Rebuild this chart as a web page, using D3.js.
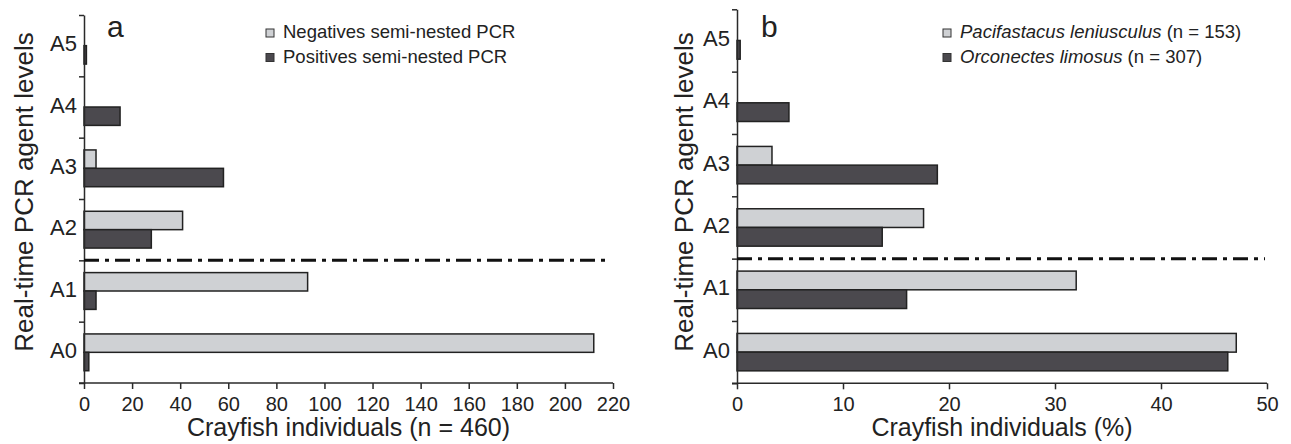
<!DOCTYPE html>
<html>
<head>
<meta charset="utf-8">
<script src="https://cdn.jsdelivr.net/npm/d3@7"></script>
<style>
  body { margin: 0; background: #fff; }
  svg { font-family: "Liberation Sans", Arial, Helvetica, sans-serif; }
  .axis path, .axis line { stroke: #2a2a2a; stroke-width: 1.5; }
  .axis text { fill: #222; }
</style>
</head>
<body>
<svg id="chart" width="1291" height="444"></svg>
<script>
// agent levels, bottom to top
const levels = ["A0", "A1", "A2", "A3", "A4", "A5"];

// panel a : counts per level
const negativesPCR = [212, 93, 41, 5, 0, 0];
const positivesPCR = [2, 5, 28, 58, 15, 1];
const ticksA = [0, 20, 40, 60, 80, 100, 120, 140, 160, 180, 200, 220];

// panel b : % per species
const pacifastacus = [47.1, 32.0, 17.6, 3.3, 0, 0];
const orconectes = [46.3, 16.0, 13.7, 18.9, 4.9, 0.3];
const ticksB = [0, 10, 20, 30, 40, 50];

const lightFill = "#cfd1d4", darkFill = "#4b494e", barStroke = "#222";

const svg = d3.select("#chart");

function panel(cfg) {
  const g = svg.append("g");

  const x = d3.scaleLinear().domain([0, cfg.xmax]).range([cfg.left, cfg.right]);
  const y = d3.scaleBand().domain(levels.slice().reverse()).range([cfg.top, cfg.bottom]);
  const yEdge = d3.scaleLinear().domain([0, levels.length]).range([cfg.bottom, cfg.top]);
  const h = y.step() * 0.3;

  const rows = levels.map((l, i) => ({lev: l, light: cfg.light[i], dark: cfg.dark[i]}));

  // light bars above band centre, dark below
  g.selectAll(".light").data(rows.filter(d => d.light > 0)).enter()
    .append("rect")
    .attr("class", "light")
    .attr("x", x(0))
    .attr("y", d => y(d.lev) + y.step() / 2 - h)
    .attr("width", d => x(d.light) - x(0))
    .attr("height", h)
    .style("fill", lightFill)
    .style("stroke", barStroke)
    .style("stroke-width", 1.5);

  g.selectAll(".dark").data(rows.filter(d => d.dark > 0)).enter()
    .append("rect")
    .attr("class", "dark")
    .attr("x", x(0))
    .attr("y", d => y(d.lev) + y.step() / 2)
    .attr("width", d => x(d.dark) - x(0))
    .attr("height", h)
    .style("fill", darkFill)
    .style("stroke", barStroke)
    .style("stroke-width", 1.5);

  // x axis
  g.append("g")
    .attr("class", "axis")
    .attr("transform", "translate(0," + cfg.bottom + ")")
    .call(d3.axisBottom(x).tickValues(cfg.ticks).tickSizeOuter(0).tickSize(6).tickPadding(8))
    .call(a => a.select(".domain").attr("d", "M" + (cfg.left - 5) + ",0H" + cfg.right))
    .selectAll("text")
    .style("font-size", "20px");

  // y axis : ticks on the band edges
  g.append("g")
    .attr("class", "axis")
    .attr("transform", "translate(" + cfg.left + ",0)")
    .call(d3.axisLeft(yEdge).ticks(6).tickSize(5).tickSizeOuter(0).tickFormat(""));

  // y labels in the middle of bands
  g.append("g")
    .attr("class", "axis")
    .attr("transform", "translate(" + cfg.left + ",0)")
    .call(d3.axisLeft(y).tickSize(0).tickPadding(7))
    .call(a => a.select(".domain").remove())
    .selectAll("text")
    .attr("dy", "0.25em")
    .style("font-size", "22px");

  // A1 / A2 separation
  g.append("line")
    .attr("x1", x(0))
    .attr("x2", cfg.right - 2)
    .attr("y1", yEdge(2))
    .attr("y2", yEdge(2))
    .style("stroke", "#111")
    .style("stroke-width", 3)
    .style("stroke-dasharray", "15,6,4,6");

  // titles
  g.append("text")
    .attr("x", (cfg.left + cfg.right) / 2)
    .attr("y", 436)
    .style("text-anchor", "middle")
    .style("font-size", "25px")
    .style("fill", "#222")
    .text(cfg.xTitle);

  g.append("text")
    .attr("transform", "translate(" + cfg.yTitleX + ",192) rotate(-90)")
    .style("text-anchor", "middle")
    .style("font-size", "26px")
    .style("fill", "#222")
    .text("Real-time PCR agent levels");

  g.append("text")
    .attr("x", cfg.letterX)
    .attr("y", 37)
    .style("font-size", "30px")
    .style("fill", "#222")
    .text(cfg.letter);

  // legend
  const leg = g.selectAll(".leg").data(cfg.legend).enter()
    .append("g")
    .attr("transform", (d, i) => "translate(" + cfg.legX + "," + (33 + i * 24.5) + ")");

  leg.append("rect")
    .attr("x", 0)
    .attr("y", -4)
    .attr("width", 8)
    .attr("height", 8)
    .style("fill", (d, i) => i == 0 ? lightFill : darkFill)
    .style("stroke", "#333")
    .style("stroke-width", 1);

  const lt = leg.append("text")
    .attr("x", 17)
    .attr("y", 5)
    .style("font-size", "18.5px")
    .style("fill", "#222");
  lt.append("tspan")
    .style("font-style", d => d.italic ? "italic" : "normal")
    .text(d => d.name);
  lt.append("tspan")
    .text(d => d.extra);
}

panel({
  left: 84, right: 613, top: 15, bottom: 383, xmax: 220, ticks: ticksA,
  light: negativesPCR, dark: positivesPCR,
  xTitle: "Crayfish individuals (n = 460)", yTitleX: 33,
  letter: "a", letterX: 107, legX: 266,
  legend: [
    {name: "Negatives semi-nested PCR", extra: "", italic: false},
    {name: "Positives semi-nested PCR", extra: "", italic: false}
  ]
});

panel({
  left: 737, right: 1267, top: 9.3, bottom: 383.3, xmax: 50, ticks: ticksB,
  light: pacifastacus, dark: orconectes,
  xTitle: "Crayfish individuals (%)", yTitleX: 693,
  letter: "b", letterX: 761, legX: 943,
  legend: [
    {name: "Pacifastacus leniusculus", extra: " (n = 153)", italic: true},
    {name: "Orconectes limosus", extra: " (n = 307)", italic: true}
  ]
});
</script>
</body>
</html>
